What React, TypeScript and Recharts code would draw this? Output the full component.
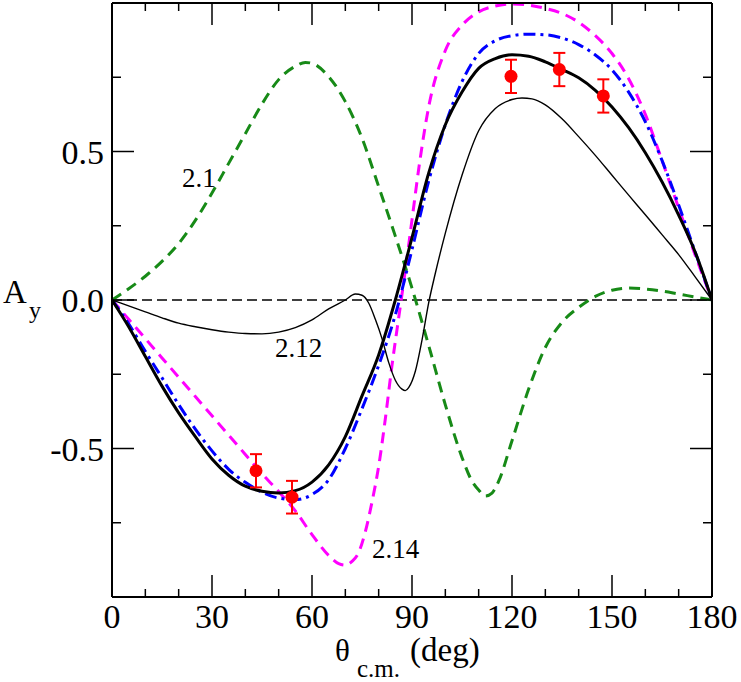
import { ComposedChart, Line, Scatter, ErrorBar, XAxis, YAxis, ReferenceLine } from 'recharts';

const SERIF = '"Liberation Serif", "Times New Roman", serif';

// thick black: full calculation
const fullAngles = [0, 5, 10, 15, 20, 25, 30, 35, 40, 45, 50, 55, 60, 65, 70, 75, 80, 85, 90, 95, 100, 105, 110, 115, 120, 125, 130, 135, 140, 145, 150, 155, 160, 165, 170, 175, 180];
const fullAy = [0, -0.09, -0.19, -0.29, -0.38, -0.46, -0.535, -0.59, -0.627, -0.644, -0.65, -0.642, -0.613, -0.555, -0.46, -0.323, -0.185, 0, 0.21, 0.427, 0.59, 0.7, 0.78, 0.813, 0.826, 0.821, 0.802, 0.776, 0.748, 0.706, 0.65, 0.58, 0.496, 0.398, 0.286, 0.16, 0];

// blue dash-dot
const blueAngles = [0, 5, 10, 15, 20, 25, 30, 35, 40, 45, 50, 55, 60, 65, 70, 75, 80, 85, 90, 95, 100, 105, 110, 115, 120, 125, 130, 135, 140, 145, 150, 155, 160, 165, 170, 175, 180];
const blueAy = [0, -0.08, -0.173, -0.262, -0.352, -0.435, -0.508, -0.57, -0.614, -0.647, -0.667, -0.672, -0.655, -0.605, -0.5, -0.366, -0.22, -0.05, 0.17, 0.4, 0.59, 0.735, 0.83, 0.873, 0.89, 0.895, 0.893, 0.882, 0.86, 0.825, 0.775, 0.7, 0.6, 0.47, 0.32, 0.16, 0];

// magenta dashed: 2.14
const magAngles = [0, 5, 10, 15, 20, 25, 30, 35, 40, 45, 50, 55, 60, 65, 68, 70, 72, 74, 76, 78, 80, 82, 84, 86, 88, 90, 92, 95, 100, 105, 110, 115, 120, 125, 130, 135, 140, 145, 150, 155, 160, 165, 170, 175, 180];
const magAy = [0, -0.065, -0.13, -0.195, -0.26, -0.325, -0.39, -0.455, -0.52, -0.585, -0.645, -0.71, -0.79, -0.86, -0.888, -0.893, -0.88, -0.85, -0.78, -0.68, -0.56, -0.4, -0.22, -0.06, 0.1, 0.27, 0.44, 0.65, 0.84, 0.925, 0.97, 0.99, 0.997, 0.993, 0.982, 0.965, 0.935, 0.89, 0.83, 0.745, 0.625, 0.47, 0.31, 0.15, 0];

// green dashed: 2.1
const greenAngles = [0, 5, 10, 15, 20, 25, 30, 35, 40, 45, 50, 55, 58, 60, 65, 70, 75, 80, 85, 90, 95, 100, 105, 108, 110, 112, 114, 116, 120, 125, 130, 135, 140, 145, 150, 155, 160, 165, 170, 175, 180];
const greenAy = [0, 0.038, 0.08, 0.13, 0.19, 0.268, 0.36, 0.46, 0.56, 0.66, 0.742, 0.787, 0.8, 0.797, 0.752, 0.668, 0.545, 0.382, 0.215, 0.04, -0.153, -0.353, -0.53, -0.61, -0.64, -0.66, -0.65, -0.61, -0.474, -0.3, -0.16, -0.075, -0.025, 0.012, 0.033, 0.04, 0.037, 0.03, 0.02, 0.01, 0];

// thin black: 2.12
const thinAngles = [0, 5, 10, 15, 20, 25, 30, 35, 40, 45, 50, 55, 60, 65, 70, 73, 75, 77, 79, 81, 83, 85, 87, 88, 89, 91, 93, 95, 97, 100, 105, 110, 115, 120, 123, 126, 130, 135, 140, 145, 150, 155, 160, 165, 170, 175, 180];
const thinAy = [0, -0.02, -0.04, -0.06, -0.078, -0.09, -0.1, -0.108, -0.113, -0.114, -0.108, -0.093, -0.067, -0.03, 0, 0.02, 0.016, -0.01, -0.065, -0.13, -0.21, -0.27, -0.3, -0.305, -0.295, -0.24, -0.135, -0.01, 0.09, 0.225, 0.42, 0.57, 0.645, 0.675, 0.68, 0.677, 0.657, 0.61, 0.55, 0.487, 0.42, 0.353, 0.287, 0.22, 0.153, 0.077, 0];

// measured points
const dataAngles = [43.2, 54, 119.7, 134.2, 147.4];
const dataAy = [-0.575, -0.664, 0.753, 0.776, 0.687];
const dataErr = [0.056, 0.055, 0.056, 0.056, 0.056];

const xTicks = [0, 10, 20, 30, 40, 50, 60, 70, 80, 90, 100, 110, 120, 130, 140, 150, 160, 170, 180];
const yTicks = [-0.75, -0.5, -0.25, 0, 0.25, 0.5, 0.75];

const toPoints = (xs: number[], ys: number[]) => xs.map((x, i) => ({ x, y: ys[i] }));

const isMajorX = (v: number) => v % 30 === 0;
const isMajorY = (v: number) => Math.abs(v * 2 - Math.round(v * 2)) < 1e-6;

function BottomTick(props: any) {
  const { x, y, payload } = props;
  const major = isMajorX(payload.value);
  return (
    <g>
      <line x1={x} x2={x} y1={y} y2={y - (major ? 22 : 8)} stroke="#000" strokeWidth={1.5} />
      {major && (
        <text x={x} y={y + 31} textAnchor="middle" fontFamily={SERIF} fontSize={34} fill="#000">
          {payload.value}
        </text>
      )}
    </g>
  );
}

function TopTick(props: any) {
  const { x, y, payload } = props;
  const major = isMajorX(payload.value);
  return <line x1={x} x2={x} y1={y} y2={y + (major ? 22 : 8)} stroke="#000" strokeWidth={1.5} />;
}

function LeftTick(props: any) {
  const { x, y, payload } = props;
  const major = isMajorY(payload.value);
  return (
    <g>
      <line x1={x} x2={x + (major ? 22 : 9)} y1={y} y2={y} stroke="#000" strokeWidth={1.5} />
      {major && (
        <text x={x - 8} y={y + 12} textAnchor="end" fontFamily={SERIF} fontSize={34} fill="#000">
          {payload.value.toFixed(1)}
        </text>
      )}
    </g>
  );
}

function RightTick(props: any) {
  const { x, y, payload } = props;
  const major = isMajorY(payload.value);
  return <line x1={x} x2={x - (major ? 22 : 9)} y1={y} y2={y} stroke="#000" strokeWidth={1.5} />;
}

const frame = { stroke: '#000', strokeWidth: 2 };

export default function App() {
  const points = dataAngles.map((x, i) => ({ x, y: dataAy[i], err: dataErr[i] }));
  return (
    <div style={{ position: 'absolute', left: 0, top: 0, width: 741, height: 682, background: '#fff' }}>
      <ComposedChart width={741} height={682} margin={{ top: 2, right: 28, bottom: 45, left: 52 }}>
        <XAxis xAxisId="b" type="number" dataKey="x" domain={[0, 180]} allowDataOverflow ticks={xTicks} interval={0}
          height={40} tickSize={0} tickMargin={0} tickLine={false} axisLine={frame} tick={<BottomTick />} />
        <XAxis xAxisId="t" orientation="top" type="number" dataKey="x" domain={[0, 180]} allowDataOverflow ticks={xTicks} interval={0}
          height={1} tickSize={0} tickMargin={0} tickLine={false} axisLine={frame} tick={<TopTick />} />
        <YAxis yAxisId="l" type="number" dataKey="y" domain={[-1, 1]} allowDataOverflow ticks={yTicks} interval={0}
          width={60} tickSize={0} tickMargin={0} tickLine={false} axisLine={frame} tick={<LeftTick />} />
        <YAxis yAxisId="r" orientation="right" type="number" dataKey="y" domain={[-1, 1]} allowDataOverflow ticks={yTicks} interval={0}
          width={1} tickSize={0} tickMargin={0} tickLine={false} axisLine={frame} tick={<RightTick />} />

        <ReferenceLine xAxisId="b" yAxisId="l" y={0} stroke="#000" strokeWidth={1.5} strokeDasharray="10 5" />

        <Line xAxisId="b" yAxisId="l" data={toPoints(greenAngles, greenAy)} dataKey="y" type="monotone"
          stroke="#178a17" strokeWidth={3} strokeDasharray="11 7" dot={false} activeDot={false} isAnimationActive={false} />
        <Line xAxisId="b" yAxisId="l" data={toPoints(magAngles, magAy)} dataKey="y" type="monotone"
          stroke="#ff00ff" strokeWidth={3} strokeDasharray="11 7" dot={false} activeDot={false} isAnimationActive={false} />
        <Line xAxisId="b" yAxisId="l" data={toPoints(blueAngles, blueAy)} dataKey="y" type="monotone"
          stroke="#0000ff" strokeWidth={3} strokeDasharray="12 5 3 5" dot={false} activeDot={false} isAnimationActive={false} />
        <Line xAxisId="b" yAxisId="l" data={toPoints(thinAngles, thinAy)} dataKey="y" type="monotone"
          stroke="#000" strokeWidth={1.4} dot={false} activeDot={false} isAnimationActive={false} />
        <Line xAxisId="b" yAxisId="l" data={toPoints(fullAngles, fullAy)} dataKey="y" type="monotone"
          stroke="#000" strokeWidth={3} dot={false} activeDot={false} isAnimationActive={false} />

        <Scatter xAxisId="b" yAxisId="l" data={points} dataKey="y" isAnimationActive={false}
          shape={(p: any) => <circle cx={p.cx} cy={p.cy} r={6.5} fill="#ff0000" />}>
          <ErrorBar dataKey="err" direction="y" width={6} stroke="#ff0000" strokeWidth={2} isAnimationActive={false} />
        </Scatter>
      </ComposedChart>

      <svg width={741} height={682} style={{ position: 'absolute', left: 0, top: 0, pointerEvents: 'none' }}>
        <g fontFamily={SERIF} fill="#000">
          <text x={182} y={187} fontSize={27}>2.1</text>
          <text x={275} y={357} fontSize={27}>2.12</text>
          <text x={372} y={558} fontSize={27}>2.14</text>
          <text x={3} y={303} fontSize={33}>A</text>
          <text x={29} y={318} fontSize={24}>y</text>
          <text x={335} y={661} fontSize={31}>θ</text>
          <text x={357} y={677} fontSize={25}>c.m.</text>
          <text x={410} y={661} fontSize={33}>(deg)</text>
        </g>
      </svg>
    </div>
  );
}
